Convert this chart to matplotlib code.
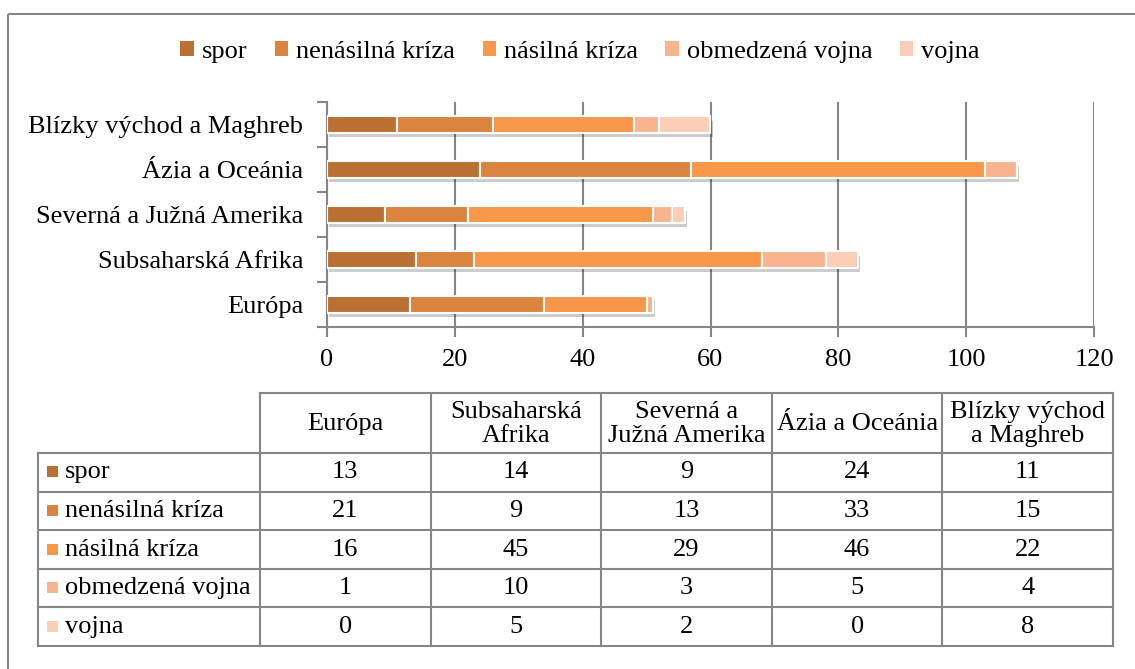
import matplotlib
matplotlib.use("Agg")
import matplotlib.pyplot as plt
import matplotlib.patheffects as pe
from matplotlib.patches import Patch, Rectangle
import numpy as np

plt.rcParams['font.family'] = ['Liberation Serif', 'DejaVu Serif']

# data
regions = ["Európa", "Subsaharská Afrika", "Severná a Južná Amerika",
           "Ázia a Oceánia", "Blízky východ a Maghreb"]
region_headers = ["Európa", "Subsaharská\nAfrika", "Severná a\nJužná Amerika",
                  "Ázia a Oceánia", "Blízky východ\na Maghreb"]
series = ["spor", "nenásilná kríza", "násilná kríza", "obmedzená vojna", "vojna"]
spor = [13, 14, 9, 24, 11]
nenasilna = [21, 9, 13, 33, 15]
nasilna = [16, 45, 29, 46, 22]
obmedzena = [1, 10, 3, 5, 4]
vojna = [0, 5, 2, 0, 8]
values = [spor, nenasilna, nasilna, obmedzena, vojna]
colors = ["#BA7033", "#DA843F", "#F69749", "#F8B48F", "#FBCEB8"]

W, H = 1135, 669
fig = plt.figure(figsize=(W / 100, H / 100), dpi=100)
FS = 19
GRID = "#868686"

# chart
ax = fig.add_axes([327 / W, 1 - 327 / H, 767 / W, 225 / H])
y = np.arange(len(regions))
left = np.zeros(len(regions))
shadow = [pe.SimplePatchShadow(offset=(1.5, -3), shadow_rgbFace="k", alpha=0.2), pe.Normal()]
for name, vals, c in zip(series, values, colors):
    vals = np.array(vals, dtype=float)
    bars = ax.barh(y, vals, left=left, height=0.36, color=c,
                   edgecolor="white", linewidth=1.5, zorder=3, label=name)
    for b in bars:
        if b.get_width() > 0:
            b.set_path_effects(shadow)
    left += vals

ax.set_xlim(0, 120)
ax.set_ylim(-0.5, len(regions) - 0.5)
ax.set_xticks(np.arange(0, 121, 20))
ax.set_yticks(y)
ax.set_yticklabels(regions)
ax.set_yticks(np.arange(-0.5, len(regions), 1), minor=True)
ax.tick_params(axis="y", which="major", length=0, labelsize=FS, pad=17)
ax.tick_params(axis="y", which="minor", length=7, width=1.5, color=GRID)
ax.tick_params(axis="x", length=7, width=1.5, color=GRID, labelsize=FS, pad=9)
ax.grid(axis="x", color=GRID, linewidth=1.5, zorder=0)
for s in ["top", "right"]:
    ax.spines[s].set_visible(False)
for s in ["left", "bottom"]:
    ax.spines[s].set_color(GRID)
    ax.spines[s].set_linewidth(1.5)

handles = [Patch(facecolor=c, label=n) for n, c in zip(series, colors)]
fig.legend(handles=handles, loc="center", bbox_to_anchor=(580 / W, 1 - 52 / H),
           ncol=5, frameon=False, fontsize=FS, handlelength=0.5, handleheight=0.5,
           handletextpad=0.3, columnspacing=1.05)

# overlay in pixel coordinates for frame and data table
ov = fig.add_axes([0, 0, 1, 1], zorder=-1)
ov.set_xlim(0, W)
ov.set_ylim(H, 0)
ov.axis("off")
ov.add_patch(Rectangle((8, 14), W + 20, H + 20, fill=False, edgecolor=GRID, linewidth=1.5))

x0, xl, xr = 38, 260, 1113
col_w = (xr - xl) / len(regions)
ht, hb = 393, 453
rh = 38.6
rows_bottom = hb + rh * len(series)
lw = 1.5
ov.plot([xl, xr], [ht, ht], color=GRID, lw=lw)
for i in range(len(regions) + 1):
    xx = xl + i * col_w
    ov.plot([xx, xx], [ht, rows_bottom], color=GRID, lw=lw)
ov.plot([x0, x0], [hb, rows_bottom], color=GRID, lw=lw)
for j in range(len(series) + 1):
    yy = hb + j * rh
    ov.plot([x0, xr], [yy, yy], color=GRID, lw=lw)

for i, h in enumerate(region_headers):
    ov.text(xl + (i + 0.5) * col_w, (ht + hb) / 2 + 1, h, ha="center", va="center",
            fontsize=FS, linespacing=1.08)

for j, (name, vals, c) in enumerate(zip(series, values, colors)):
    yc = hb + (j + 0.5) * rh
    ov.add_patch(Rectangle((47, yc - 6), 11, 11, facecolor=c, edgecolor="none"))
    ov.text(65, yc, name, ha="left", va="center", fontsize=FS)
    for i, v in enumerate(vals):
        ov.text(xl + (i + 0.5) * col_w, yc, str(v), ha="center", va="center", fontsize=FS)

fig.savefig("out.png", dpi=100)
